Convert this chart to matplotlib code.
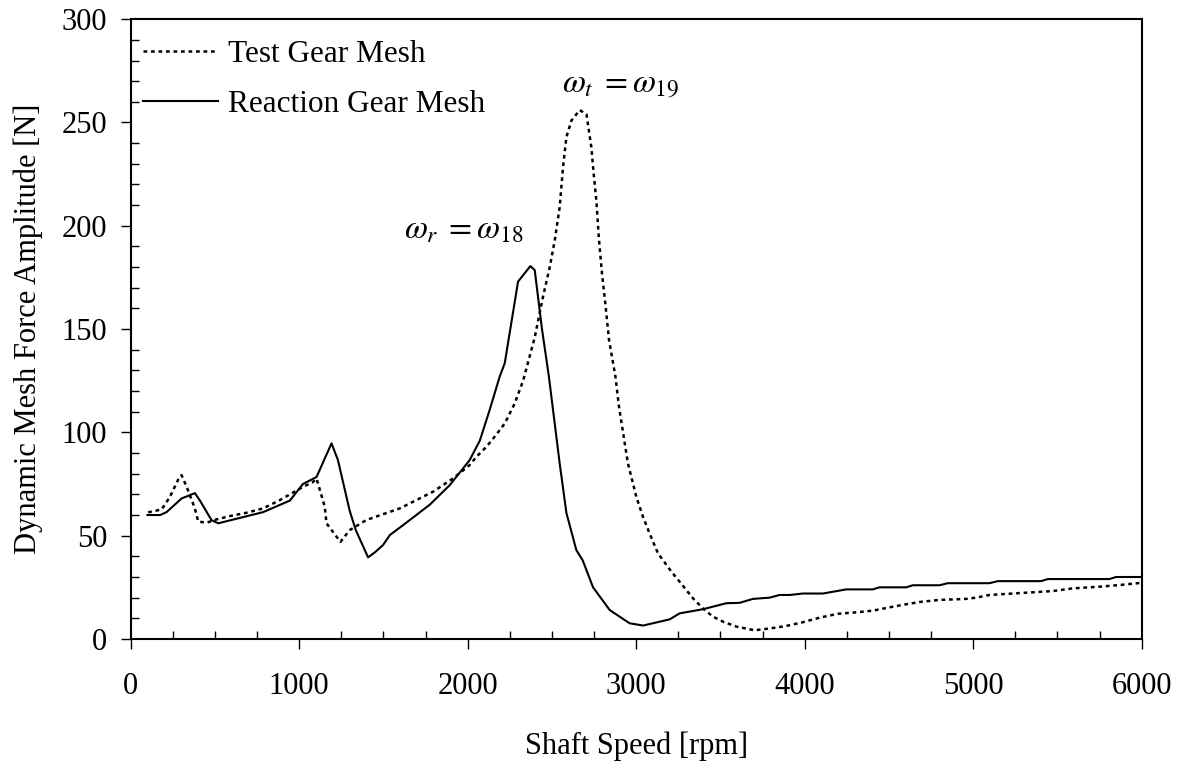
import numpy as np
import matplotlib
matplotlib.use("Agg")
import matplotlib.pyplot as plt
from matplotlib.ticker import MultipleLocator

plt.rcParams['font.family'] = ['Liberation Serif', 'DejaVu Serif']
plt.rcParams['mathtext.fontset'] = 'stix'

# Reaction gear mesh (solid line)
rpm_r = [100, 175, 213, 302, 381, 411, 480, 520, 786, 945, 1022, 1103, 1150, 1192,
         1230, 1300, 1336, 1409, 1450, 1498, 1538, 1615, 1775, 1894, 2012, 2072, 2131,
         2190, 2220, 2299, 2372, 2398, 2441, 2482, 2546, 2586, 2645, 2683, 2744, 2843,
         2961, 3041, 3199, 3258, 3396, 3535, 3614, 3693, 3792, 3851, 3911, 3989, 4108,
         4247, 4404, 4444, 4602, 4642, 4800, 4849, 5097, 5146, 5403, 5443, 5808, 5848, 6000]
force_r = [60, 60, 61.4, 68, 70.6, 67, 57.5, 56, 61.4, 67, 75, 78.4, 87, 94.7,
           86.6, 62, 52.7, 39.5, 42, 45.5, 50.3, 55, 65, 74.5, 86.6, 96, 111,
           127, 133.5, 173, 180.5, 178.5, 150, 127, 85, 61, 43, 38, 25, 14,
           7.6, 6.5, 9.5, 12.4, 14.4, 17.3, 17.5, 19.4, 20, 21.3, 21.3, 22, 22,
           24, 24, 25, 25, 26, 26, 27, 27, 28, 28, 29, 29, 30, 30]

# Test gear mesh (dotted line)
rpm_t = [104, 184, 233, 283, 302, 332, 381, 401, 451, 510, 589, 688, 786, 885, 1024,
         1079, 1103, 1152, 1162, 1245, 1300, 1399, 1597, 1795, 1913, 2012, 2052, 2111,
         2160, 2220, 2279, 2329, 2398, 2447, 2487, 2517, 2546, 2566, 2586, 2616, 2665,
         2705, 2734, 2748, 2764, 2778, 2797, 2819, 2839, 2877, 2898, 2922, 2951, 3001,
         3041, 3080, 3129, 3209, 3258, 3337, 3396, 3456, 3515, 3594, 3703, 3802, 3891,
         3989, 4088, 4197, 4306, 4404, 4503, 4602, 4691, 4800, 4958, 5017, 5097, 5235,
         5354, 5473, 5591, 5749, 5868, 6000]
force_t = [61.3, 62.7, 68.8, 77.3, 79.3, 73.7, 63.2, 56.8, 56.3, 57.9, 59.5, 61.1, 63.2, 67.2, 73.7,
           75.8, 77.6, 64, 56, 47, 52.7, 57.6, 63.2, 71.3, 77.7, 84.2, 88.2, 93,
           97.9, 104.3, 114, 125, 146, 165.6, 180, 193, 209, 228.5, 243, 251, 256,
           254, 238, 225, 212, 194.6, 177, 160.8, 144.6, 127, 112.4, 100, 85, 68.8,
           59, 51, 41.5, 32.6, 27.7, 19.7, 14.8, 10.8, 8.4, 6, 4.2, 5.2, 6.3,
           8.1, 10.3, 12.2, 12.9, 13.7, 15.3, 16.8, 18, 18.9, 19.4, 20, 21.3, 22,
           22.6, 23.2, 24.5, 25.3, 26.1, 27.2]

fig = plt.figure(figsize=(11.88, 7.68), dpi=100)
ax = fig.add_axes([0.110, 0.168, 0.851, 0.807])

ax.plot(rpm_t, force_t, color='black', lw=1.8, linestyle=(0, (1.5, 1.5)), label='Test Gear Mesh')
ax.plot(rpm_r, force_r, color='black', lw=1.5, label='Reaction Gear Mesh')

ax.set_xlim(0, 6000)
ax.set_ylim(0, 300)
ax.xaxis.set_major_locator(MultipleLocator(1000))
ax.xaxis.set_minor_locator(MultipleLocator(250))
ax.yaxis.set_major_locator(MultipleLocator(50))
ax.yaxis.set_minor_locator(MultipleLocator(10))
ax.tick_params(which='major', direction='out', length=7, width=1, labelsize=22)
ax.tick_params(axis='x', which='major', pad=17)
ax.tick_params(axis='y', which='major', pad=10)
ax.tick_params(which='minor', direction='in', length=6, width=1)
for s in ax.spines.values():
    s.set_linewidth(1.5)

ax.set_xlabel('Shaft Speed [rpm]', fontsize=22, labelpad=22)
ax.set_ylabel('Dynamic Mesh Force Amplitude [N]', fontsize=22, labelpad=13)

ax.text(2560, 268, r'$\omega_t\;=\omega_{19}$', fontsize=24, va='center', ha='left')
ax.text(1620, 198, r'$\omega_r\;=\omega_{18}$', fontsize=24, va='center', ha='left')

ax.legend(loc='upper left', bbox_to_anchor=(0, 0.986), frameon=False, fontsize=22.5,
          handlelength=2.4, handletextpad=0.3, borderaxespad=0.0, labelspacing=0.65,
          borderpad=0.4)

fig.savefig('out.png', dpi=100)
